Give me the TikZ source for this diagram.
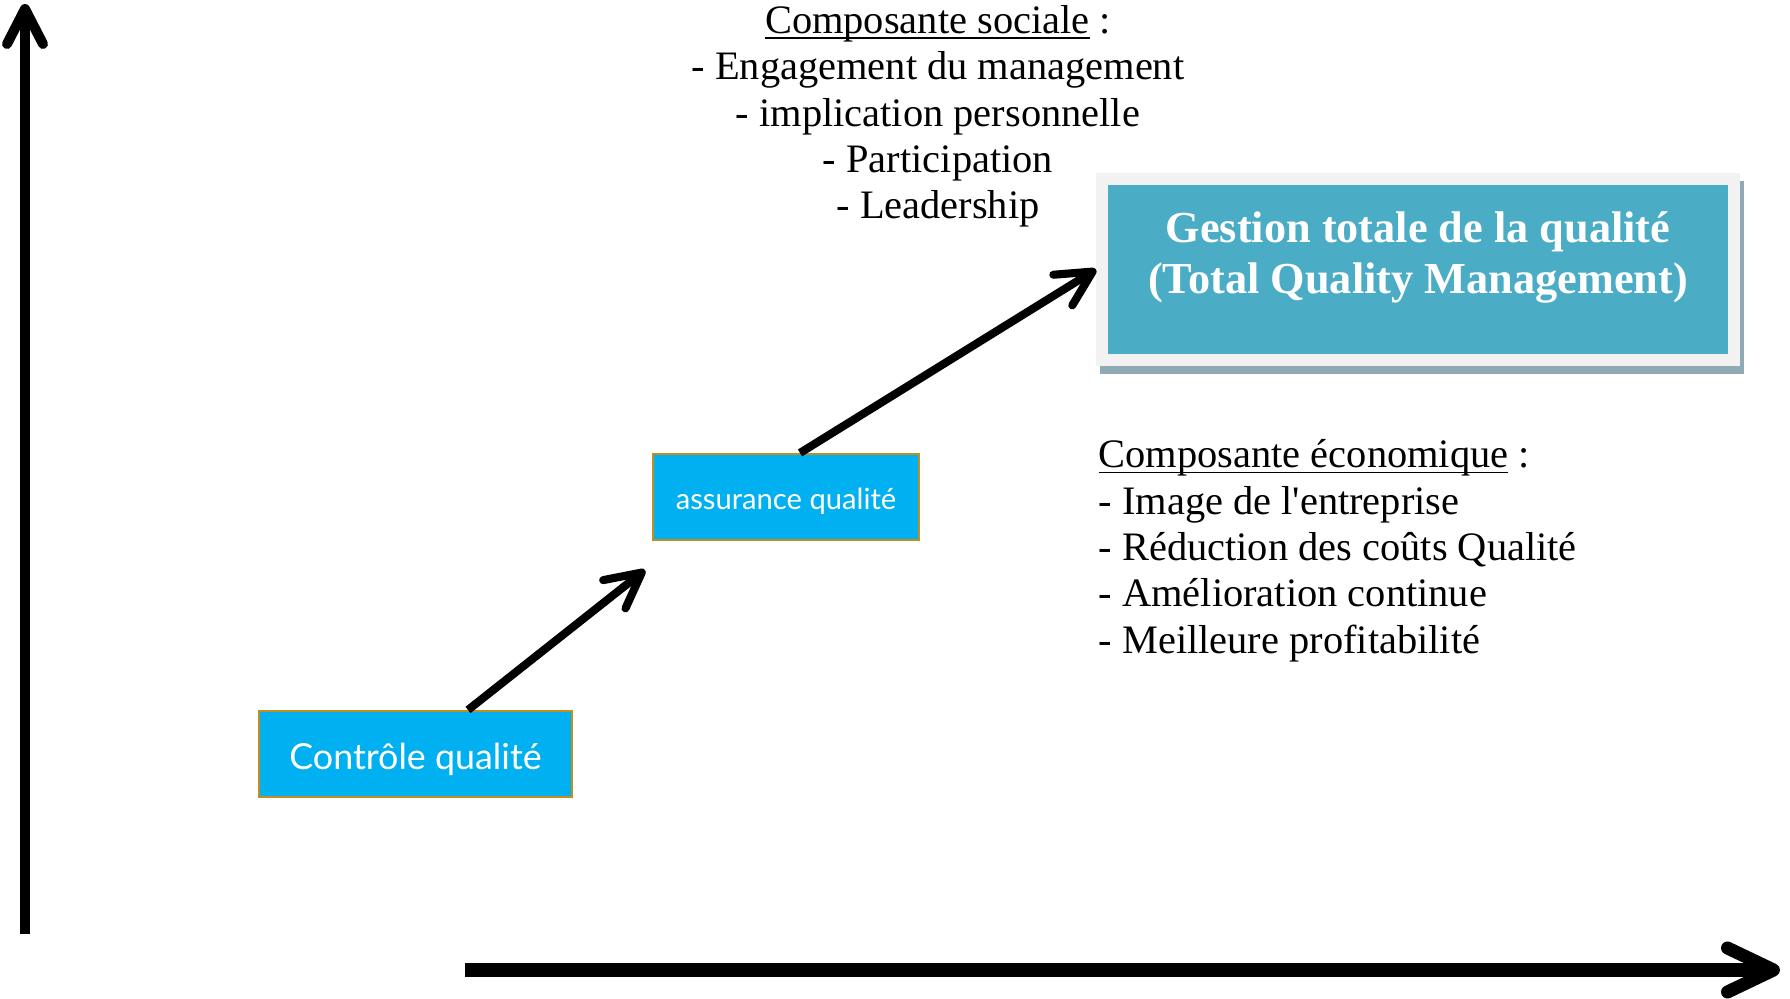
\documentclass[tikz,border=0pt]{standalone}
\usepackage{fontspec}
\setmainfont{Liberation Serif}
\newfontfamily\boxfont{Lato}
\usetikzlibrary{arrows.meta,backgrounds}

\definecolor{boxcyan}{HTML}{00B0F0}
\definecolor{boxgold}{RGB}{191,144,32}
\definecolor{tqmteal}{HTML}{4BACC6}
\definecolor{tqmframe}{HTML}{F2F2F2}
\definecolor{tqmshadow}{RGB}{143,170,180}

\newcommand\ulin[1]{\underline{\raisebox{0pt}[\height][0pt]{#1}}}

\tikzset{
  qbox/.style={draw=boxgold, line width=0.6pt, fill=boxcyan, text=white,
    inner sep=0pt, text depth=0pt, font=\boxfont},
  arr/.style={line width=2.3pt, -{Straight Barb[length=3.5mm,width=3.6mm,round]}},
  axis/.style={line width=2.85pt, -{Straight Barb[length=3.5mm,width=3.6mm,round]}},
  listtxt/.style={inner sep=0pt, font=\fontsize{11.5}{13.2}\selectfont}
}

\begin{document}
\begin{tikzpicture}
    \useasboundingbox (0,0) rectangle (17.9,9.99);

    % axes
    \coordinate (yfoot) at (0.25,0.65);
    \coordinate (ytop) at (0.25,9.95);
    \coordinate (xfoot) at (4.65,0.29);
    \coordinate (xend) at (17.80,0.29);
    \draw[axis] (yfoot) -- (ytop);
    \draw[axis, line width=3.7pt, -{Straight Barb[length=4.6mm,width=4.4mm,round]}] (xfoot) -- (xend);

    % steps
    \node[qbox, minimum width=3.13cm, minimum height=0.86cm, text height=8.7pt, font=\boxfont\fontsize{10.2}{12}\selectfont]
        (ctrl) at (4.155,2.45) {Contrôle qualité};
    \node[qbox, minimum width=2.66cm, minimum height=0.86cm, text height=7.2pt, font=\boxfont\fontsize{8.3}{10}\selectfont]
        (assur) at (7.86,5.02) {assurance qualité};
    \node[fill=tqmteal, draw=tqmframe, line width=0.12cm, minimum width=6.32cm, minimum height=1.81cm]
        (tqm) at (14.18,7.295) {};
    \begin{scope}[on background layer]
        \fill[tqmshadow] ([shift={(0.04,-0.08)}]tqm.south west) rectangle ([shift={(0.04,-0.08)}]tqm.north east);
    \end{scope}
    \node[text=white, align=center, inner sep=0pt, font=\bfseries\fontsize{12.6}{14.6}\selectfont]
        (tqmtext) at ([yshift=0.12cm]tqm.center) {Gestion totale de la qualité\\(Total Quality Management)};

    \draw[arr] ([xshift=0.525cm]ctrl.north) -- ([shift={(-0.07,-0.29)}]assur.south west);
    \draw[arr] ([xshift=0.14cm]assur.north) -- (tqm.west);

    % components
    \node[listtxt, align=center, anchor=north] (social) at (9.38,9.945)
        {\ulin{Composante sociale} :\\- Engagement du management\\- implication personnelle\\- Participation\\- Leadership};
    \node[listtxt, align=left, anchor=north west] (eco) at (10.98,5.60)
        {\ulin{Composante économique} :\\- Image de l\textquotesingle entreprise\\- Réduction des coûts Qualité\\- Amélioration continue\\- Meilleure profitabilité};

\end{tikzpicture}
\end{document}
